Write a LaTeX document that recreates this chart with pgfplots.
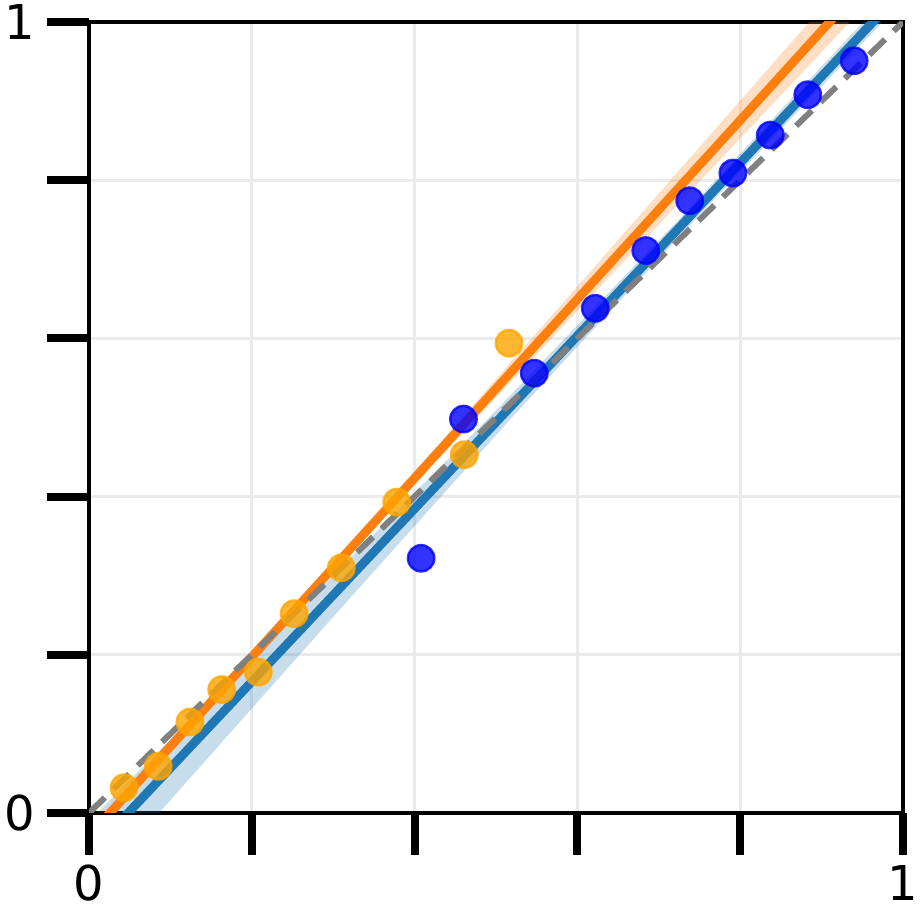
\documentclass[border=0pt]{standalone}
\usepackage{fontspec}
\setmainfont{DejaVu Sans}
\usepackage{pgfplots}
\pgfplotsset{compat=1.18}
\definecolor{tabblue}{HTML}{1F77B4}
\definecolor{taborange}{HTML}{FF7F0E}
\definecolor{ptorange}{HTML}{FFA500}
\definecolor{ptblue}{HTML}{0000FF}
\definecolor{gridgray}{HTML}{EBEBEB}
\begin{document}
\begin{tikzpicture}
\begin{axis}[
  scale only axis,
  width=203.5pt, height=197.75pt,
  xmin=0, xmax=1, ymin=0, ymax=1,
  xtick={0,0.2,...,1}, ytick={0,0.2,...,1},
  xticklabels={0,,,,,1}, yticklabels={0,,,,,1},
  tick align=outside,
  xtick pos=bottom, ytick pos=left,
  major tick length=10.5pt,
  every tick/.style={black, line width=2pt},
  axis line style={line width=0.8pt},
  grid=major,
  grid style={gridgray, line width=0.7pt},
  tick label style={font=\fontsize{12}{14}\selectfont},
  xticklabel style={yshift=1pt},
  yticklabel style={xshift=0.5pt},
  /pgf/number format/assume math mode=true,
  clip=true,
]
% points
\addplot[only marks, mark=*, mark size=3.3pt, opacity=0.8,
  mark options={fill=ptorange, draw=ptorange, line width=0.6pt}]
  coordinates {(0.043,0.032) (0.085,0.059) (0.124,0.115) (0.163,0.156)
    (0.208,0.178) (0.252,0.252) (0.310,0.310) (0.378,0.393)
    (0.461,0.453) (0.516,0.594)};
\addplot[only marks, mark=*, mark size=3.3pt, opacity=0.8,
  mark options={fill=ptblue, draw=ptblue, line width=0.6pt}]
  coordinates {(0.408,0.322) (0.460,0.498) (0.547,0.556) (0.622,0.638)
    (0.684,0.711) (0.738,0.774) (0.791,0.809) (0.837,0.857)
    (0.883,0.908) (0.940,0.951)};
% confidence bands
\addplot[draw=none, fill=taborange, fill opacity=0.25]
  coordinates {(0.019,0) (0.2427,0.25) (0.4587,0.5) (0.6718,0.75) (0.8848,1)
    (0.9348,1) (0.7058,0.75) (0.4767,0.5) (0.2507,0.25) (0.033,0)} -- cycle;
\addplot[draw=none, fill=tabblue, fill opacity=0.25]
  coordinates {(0.010,0) (0.2518,0.25) (0.4915,0.5) (0.7243,0.75) (0.951,1)
    (0.975,1) (0.7443,0.75) (0.5195,0.5) (0.3018,0.25) (0.086,0)} -- cycle;
% fit lines
\addplot[taborange, line width=2.2pt] coordinates {(0,-0.029) (1,1.102)};
\addplot[tabblue, line width=2.2pt] coordinates {(0,-0.0525) (1,1.0404)};
% identity
\addplot[gray, line width=1.5pt, dash pattern=on 5.5pt off 3pt]
  coordinates {(0,0) (1,1)};
\end{axis}
\pgfresetboundingbox
\path (-22.25pt,-25.75pt) rectangle (208pt,203.25pt);
\end{tikzpicture}
\end{document}
